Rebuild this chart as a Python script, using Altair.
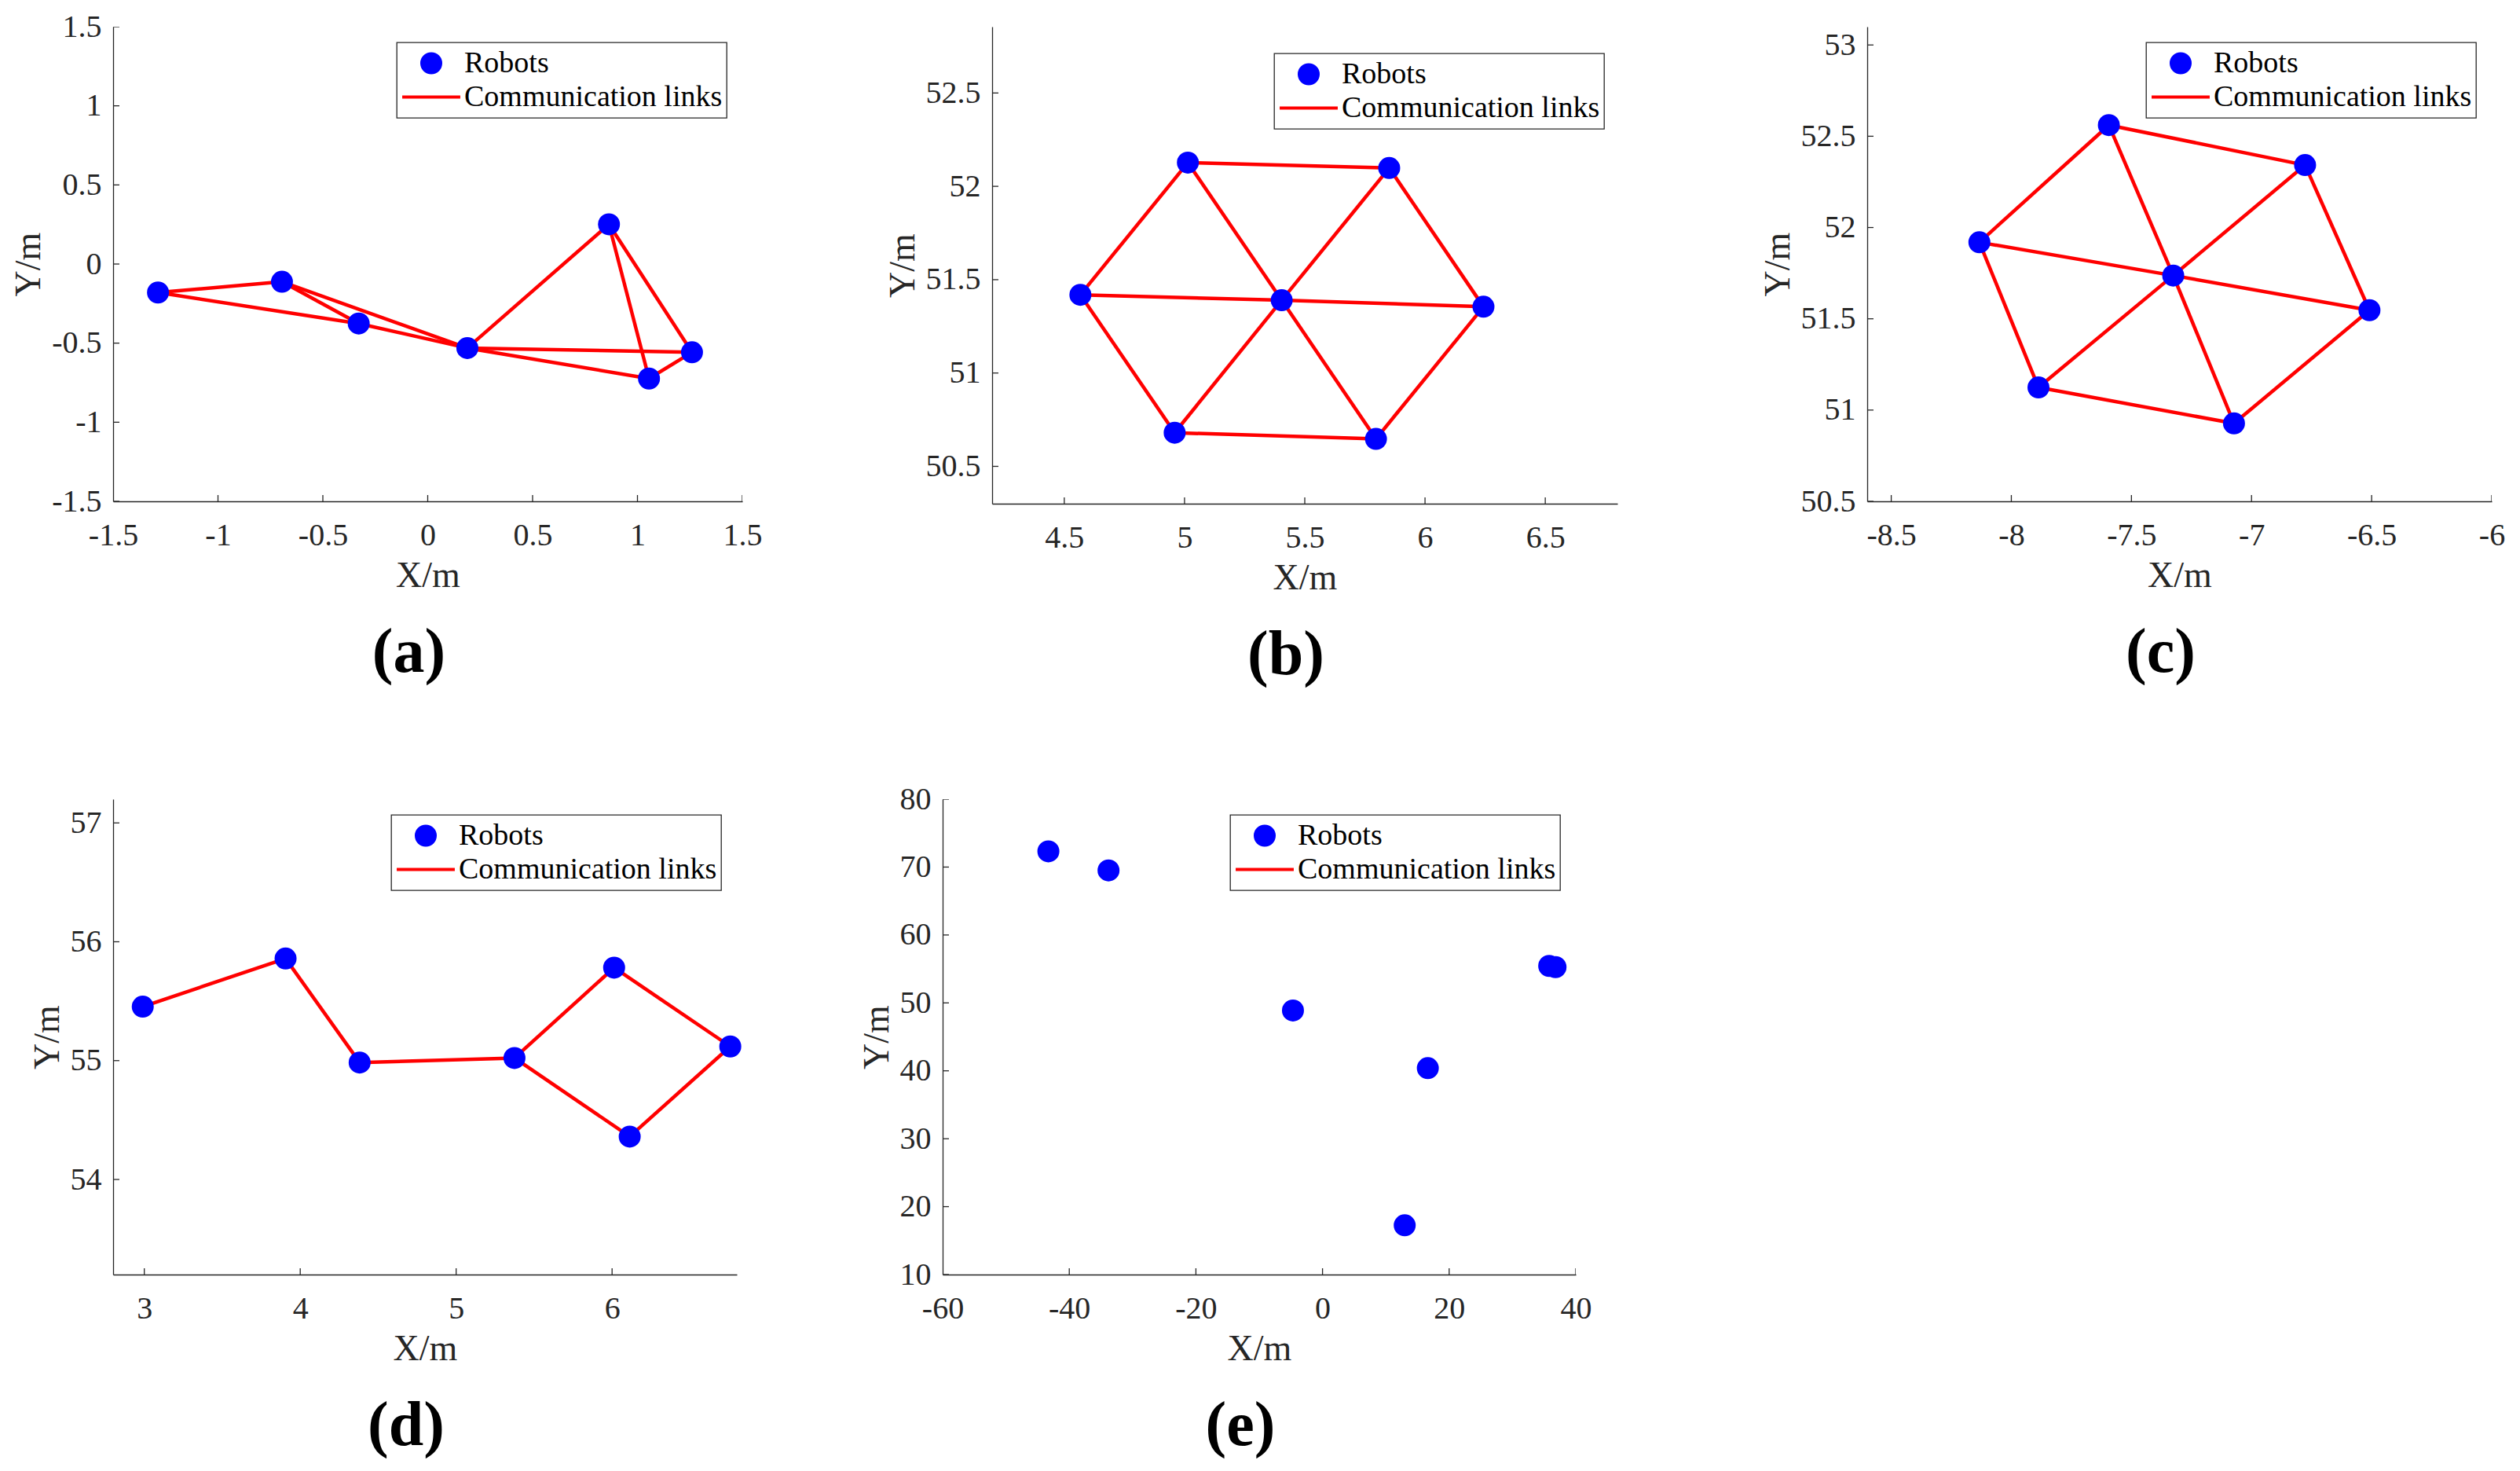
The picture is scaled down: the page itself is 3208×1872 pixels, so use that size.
import altair as alt
import pandas as pd

SERIF = "Liberation Serif"
ROBOT = "Robots"
LINK = "Communication links"
BLUE = "#0000ff"
RED = "#ff0000"
AXC = "#262626"

# ---------------- data ----------------
# (a)
a_x = [-1.286, -0.695, -0.329, 0.189, 0.864, 1.260, 1.055]
a_y = [-0.180, -0.112, -0.376, -0.531, 0.251, -0.558, -0.724]
a_edges = [(0, 1), (0, 2), (1, 2), (1, 3), (2, 3), (3, 4), (3, 5), (3, 6), (4, 5), (4, 6), (5, 6)]
a_xticks = [-1.5, -1, -0.5, 0, 0.5, 1, 1.5]
a_yticks = [-1.5, -1, -0.5, 0, 0.5, 1, 1.5]

# (b)
b_x = [4.567, 5.014, 5.851, 6.243, 5.796, 4.959, 5.404]
b_y = [51.419, 52.127, 52.098, 51.355, 50.647, 50.680, 51.390]
b_edges = [(0, 1), (1, 2), (2, 3), (3, 4), (4, 5), (5, 0),
           (6, 0), (6, 1), (6, 2), (6, 3), (6, 4), (6, 5)]
b_xticks = [4.5, 5, 5.5, 6, 6.5]
b_yticks = [50.5, 51, 51.5, 52, 52.5]

# (c)
c_x = [-8.133, -7.594, -6.777, -6.509, -7.073, -7.887, -7.326]
c_y = [51.919, 52.561, 52.342, 51.547, 50.927, 51.124, 51.737]
c_edges = [(0, 1), (1, 2), (2, 3), (3, 4), (4, 5), (5, 0),
           (6, 0), (6, 1), (6, 2), (6, 3), (6, 4), (6, 5)]
c_xticks = [-8.5, -8, -7.5, -7, -6.5, -6]
c_yticks = [50.5, 51, 51.5, 52, 52.5, 53]

# (d)
d_x = [2.990, 3.906, 4.381, 5.374, 6.013, 6.113, 6.758]
d_y = [55.454, 55.859, 54.984, 55.022, 55.782, 54.361, 55.119]
d_edges = [(0, 1), (1, 2), (2, 3), (3, 4), (4, 6), (3, 5), (5, 6)]
d_xticks = [3, 4, 5, 6]
d_yticks = [54, 55, 56, 57]

# (e)
e_x = [-43.3, -33.8, -4.67, 16.63, 12.98, 35.8, 36.8]
e_y = [72.31, 69.51, 48.88, 40.39, 17.25, 55.44, 55.27]
e_edges = []
e_xticks = [-60, -40, -20, 0, 20, 40]
e_yticks = [10, 20, 30, 40, 50, 60, 70, 80]

# ---------------- styling ----------------
LBL = "'' + datum.value"
KINDS = [ROBOT, LINK]
LINE_SYMBOL = "M-3.08,0H3.08"


def make_panel(xs, ys, edges, xdom, ydom, xticks, yticks, w, h, tag, legend_pos=None):
    robots = pd.DataFrame({"x": xs, "y": ys, "kind": [ROBOT] * len(xs)})
    link_rows = []
    for k, (i, j) in enumerate(edges):
        for n in (i, j):
            link_rows.append({"x": xs[n], "y": ys[n], "edge": k})
    xtick_df = pd.DataFrame({"x": xticks, "y": [ydom[0]] * len(xticks)})
    ytick_df = pd.DataFrame({"x": [xdom[0]] * len(yticks), "y": yticks})

    x = alt.X("x:Q", scale=alt.Scale(domain=xdom, nice=False, zero=False),
              axis=alt.Axis(values=xticks, title="X/m", labelExpr=LBL, labelFlush=False,
                            labelOverlap=False, ticks=False))
    y = alt.Y("y:Q", scale=alt.Scale(domain=ydom, nice=False, zero=False),
              axis=alt.Axis(values=yticks, title="Y/m", labelExpr=LBL, labelFlush=False,
                            labelOverlap=False, ticks=False))
    if legend_pos is None:
        lkw = dict(orient="top-right", offset=20)
    else:
        lkw = dict(orient="none", legendX=legend_pos[0], legendY=legend_pos[1])
    leg = alt.Legend(title=None, strokeColor=AXC, fillColor="white",
                     padding=5, cornerRadius=0, labelFont=SERIF, labelFontSize=38,
                     labelColor="black", labelLimit=1000, symbolSize=576, symbolStrokeWidth=4,
                     symbolOffset=20, labelOffset=23, clipHeight=43, rowPadding=0, **lkw)
    fill = alt.Fill("kind:N", scale=alt.Scale(domain=KINDS, range=[BLUE, "transparent"]), legend=leg)
    stroke = alt.Stroke("kind:N", scale=alt.Scale(domain=KINDS, range=[BLUE, RED]), legend=leg)
    shape = alt.Shape("kind:N", scale=alt.Scale(domain=KINDS, range=["circle", LINE_SYMBOL]), legend=leg)

    layers = []
    if link_rows:
        layers.append(alt.Chart(pd.DataFrame(link_rows)).mark_line(
            strokeWidth=4.5, color=RED).encode(x=x, y=y, detail="edge:N"))
    layers.append(alt.Chart(xtick_df).mark_tick(
        orient="vertical", size=16, thickness=1.3, color=AXC, clip=True, opacity=1).encode(x=x, y=y))
    layers.append(alt.Chart(ytick_df).mark_tick(
        orient="horizontal", size=16, thickness=1.3, color=AXC, clip=True, opacity=1).encode(x=x, y=y))
    layers.append(alt.Chart(robots).mark_point(
        size=576, filled=True, strokeWidth=4, opacity=1).encode(
        x=x, y=y, fill=fill, stroke=stroke, shape=shape))
    return alt.layer(*layers).properties(
        width=w, height=h,
        title=alt.TitleParams(text=tag, orient="bottom", anchor="middle", frame="group", dx=-24,
                              offset=37, font=SERIF, fontSize=80, fontWeight="bold", color="black"))


pa = make_panel(a_x, a_y, a_edges, [-1.5, 1.5], [-1.5, 1.5], a_xticks, a_yticks, 801, 604, "(a)")
pb = make_panel(b_x, b_y, b_edges, [4.2, 6.8], [50.3, 52.855], b_xticks, b_yticks, 796, 607, "(b)",
                legend_pos=(359, 34))
pc = make_panel(c_x, c_y, c_edges, [-8.6, -6], [50.5, 53.1], c_xticks, c_yticks, 795, 604, "(c)")
pd_ = make_panel(d_x, d_y, d_edges, [2.8, 6.8], [53.2, 57.2], d_xticks, d_yticks, 794, 605, "(d)")
pe = make_panel(e_x, e_y, e_edges, [-60, 40], [10, 80], e_xticks, e_yticks, 806, 605, "(e)")

IND = dict(fill="independent", stroke="independent", shape="independent")
row1 = alt.hconcat(pa, pb, pc, spacing=318, bounds="flush").resolve_scale(**IND)
row2 = alt.hconcat(pd_, pe, spacing=262, bounds="flush").resolve_scale(**IND)

chart = alt.vconcat(row1, row2, spacing=121).resolve_scale(**IND).properties(
    padding={"left": 5, "top": 5, "right": 5, "bottom": 5}, background="white"
).configure_axis(
    domainColor=AXC, domainWidth=1.3, tickSize=0, grid=False,
    labelFont=SERIF, labelFontSize=40, labelColor=AXC,
    titleFont=SERIF, titleFontSize=46, titleFontWeight="normal", titleColor=AXC,
).configure_axisX(labelPadding=23, titlePadding=9).configure_axisY(
    labelPadding=15, titlePadding=5
).configure_legend(strokeWidth=1.3).configure_view(stroke="transparent")

chart.save("out.html", embed_options={"renderer": "svg", "actions": False})
